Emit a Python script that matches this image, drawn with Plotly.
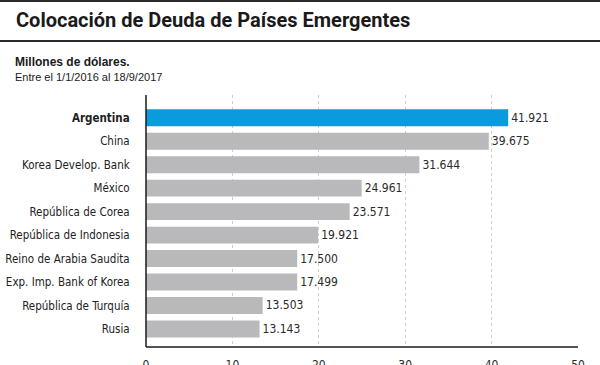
import plotly.graph_objects as go

categories = ["Argentina", "China", "Korea Develop. Bank", "México", "República de Corea",
              "República de Indonesia", "Reino de Arabia Saudita", "Exp. Imp. Bank of Korea",
              "República de Turquía", "Rusia"]
values = [41.921, 39.675, 31.644, 24.961, 23.571, 19.921, 17.500, 17.499, 13.503, 13.143]
value_labels = ["41.921", "39.675", "31.644", "24.961", "23.571", "19.921", "17.500", "17.499", "13.503", "13.143"]
x_ticks = [0, 10, 20, 30, 40, 50]

title = "Colocación de Deuda de Países Emergentes"
subtitle1 = "Millones de dólares."
subtitle2 = "Entre el 1/1/2016 al 18/9/2017"

W, H = 600, 365
L, R, T, B = 146, 22, 95, 18
PW, PH = W - L - R, H - T - B

def px_x(x):
    return (x - L) / PW

def px_y(y):
    return 1 - (y - T) / PH

BLUE = "#0b9bdc"
GRAY = "#b9b9bc"
colors = [BLUE if c == "Argentina" else GRAY for c in categories]
tick_text = ["<b>Argentina</b>" if c == "Argentina" else c for c in categories]

NARROW = "Liberation Sans Narrow, DejaVu Sans Condensed, Arial Narrow, sans-serif"

fig = go.Figure(go.Bar(
    x=values, y=categories, orientation="h",
    marker=dict(color=colors, line=dict(width=0)),
    width=0.72,
    text=value_labels, textposition="outside",
    textfont=dict(family=NARROW, size=12, color="#2a2a2a"),
    cliponaxis=False, hoverinfo="skip",
))

fig.update_layout(
    width=W, height=H,
    margin=dict(l=L, r=R, t=T, b=B, autoexpand=False),
    paper_bgcolor="white", plot_bgcolor="white",
    showlegend=False,
    xaxis=dict(range=[0, 50], tickvals=x_ticks, ticktext=[str(v) for v in x_ticks],
               showgrid=True, gridcolor="#cfcfcf", griddash="3px,3px", gridwidth=1,
               zeroline=False, showline=False, automargin=False,
               ticks="outside", ticklen=7, tickcolor="rgba(0,0,0,0)",
               tickfont=dict(family=NARROW, size=12, color="#2a2a2a"), fixedrange=True),
    yaxis=dict(categoryorder="array", categoryarray=categories,
               tickvals=categories, ticktext=tick_text, automargin=False,
               range=[9.77, -0.97], showgrid=False, zeroline=False, showline=False,
               ticks="outside", ticklen=13, tickcolor="rgba(0,0,0,0)",
               tickfont=dict(family=NARROW, size=11.5, color="#222222"), fixedrange=True),
    font=dict(family="Liberation Sans, Arial, sans-serif"),
)

line_color = "#2b2b2b"
shapes = [
    dict(type="line", xref="paper", yref="paper", x0=px_x(0), x1=px_x(W), y0=px_y(1), y1=px_y(1),
         line=dict(color=line_color, width=2)),
    dict(type="line", xref="paper", yref="paper", x0=px_x(0), x1=px_x(W), y0=px_y(41), y1=px_y(41),
         line=dict(color=line_color, width=2)),
    dict(type="line", xref="paper", yref="paper", x0=0, x1=0, y0=0, y1=1,
         line=dict(color="#1a1a1a", width=1.5)),
    dict(type="line", xref="paper", yref="paper", x0=0, x1=1, y0=0, y1=0,
         line=dict(color="#1a1a1a", width=1.5)),
]

annotations = [
    dict(text=title, xref="paper", yref="paper", x=px_x(14), y=px_y(20), xanchor="left", yanchor="middle",
         showarrow=False,
         font=dict(family="Roboto, Liberation Sans, Arial, sans-serif", size=20, weight=700, color="#1a1a1a")),
    dict(text="<b>" + subtitle1 + "</b>", xref="paper", yref="paper", x=px_x(13), y=px_y(62),
         xanchor="left", yanchor="middle", showarrow=False,
         font=dict(family="Liberation Sans, Arial, sans-serif", size=12, color="#1a1a1a")),
    dict(text=subtitle2, xref="paper", yref="paper", x=px_x(13), y=px_y(77),
         xanchor="left", yanchor="middle", showarrow=False,
         font=dict(family="Liberation Sans, Arial, sans-serif", size=11, color="#1a1a1a")),
]
fig.update_layout(shapes=shapes, annotations=annotations)

fig.write_html("out.html", config={"displayModeBar": False},
               post_script="document.body.style.margin='0';document.body.style.overflow='hidden';")
